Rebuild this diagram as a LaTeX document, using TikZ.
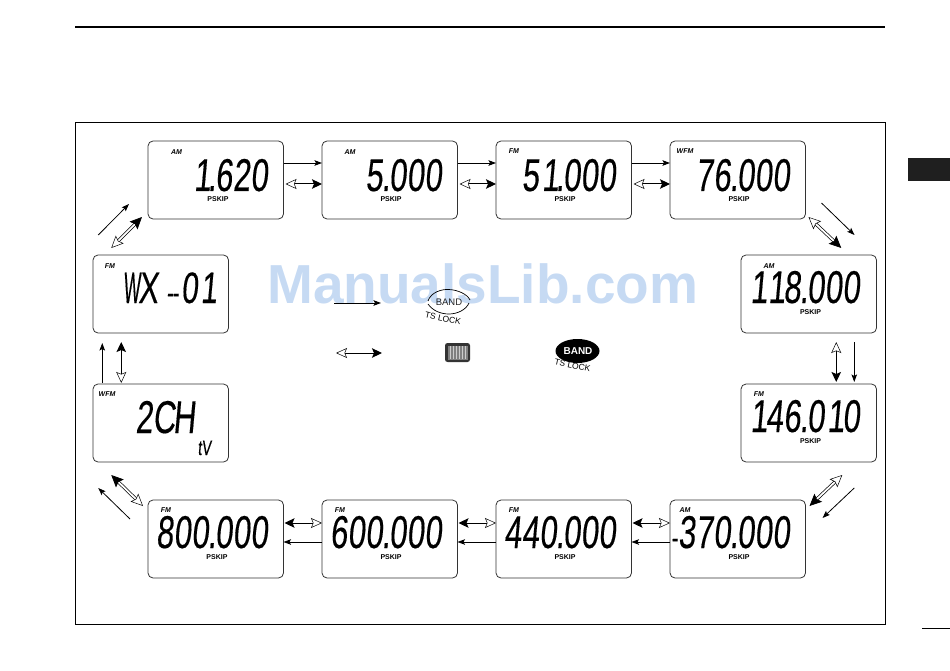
\documentclass[tikz,border=0pt]{standalone}
\usepackage{fontspec}
\setmainfont{Liberation Sans}
\usetikzlibrary{arrows.meta,shapes.geometric,calc}
\newfontfamily\lcdfam[FakeStretch=0.67,FakeSlant=0.09,FakeBold=0.3]{Liberation Sans}
\definecolor{wm}{HTML}{C6DAF3}
\newcommand{\lcdfont}{\lcdfam\fontsize{46}{46}\selectfont}
\newlength{\lcdpitch}\setlength{\lcdpitch}{17.7pt}
\newcommand{\lcdparse}[1]{%
  \ifx#1\relax\else
    \ifx#1.\makebox[6pt][c]{.}\else
    \ifx#11\makebox[\lcdpitch][r]{\makebox[10pt][r]{1}\kern-2pt}\else
    \ifx#1-\makebox[\lcdpitch][r]{\fontsize{30}{30}\selectfont-}\else
    \makebox[\lcdpitch][c]{#1}\fi\fi\fi
    \expandafter\lcdparse
  \fi}
\newcommand{\lcdtxt}[1]{\lcdfont\lcdparse#1\relax}
\tikzset{
  x=1pt,y=-1pt,
  lcdbox/.style={draw=black!80,line width=.8pt,rounded corners=5pt,minimum width=135.5pt,minimum height=78pt,inner sep=0pt,outer sep=0pt,anchor=north west},
  digits/.style={anchor=base east,inner sep=0pt,outer sep=0pt},
  tag/.style={inner sep=0pt,font=\fontsize{7}{7}\selectfont\bfseries\itshape},
  skip/.style={inner sep=0pt,font=\fontsize{7}{7}\selectfont\bfseries},
  thinarr/.style={line width=.8pt,-{Stealth[length=7.5pt,width=5.5pt,inset=1.5pt]}},
  dblarr/.style={line width=1pt,{Stealth[open,length=11pt,width=10pt,inset=2pt,fill=white,line width=.5pt]}-{Stealth[length=10pt,width=9.5pt,inset=2pt]}},
  diagarr/.style={double,double distance=1.8pt,line width=.7pt,{Stealth[open,length=12pt,width=11pt,inset=2pt,fill=white,line width=.5pt]}-{Stealth[length=12pt,width=11pt,inset=2pt]}},
}
\begin{document}
\begin{tikzpicture}
\useasboundingbox (0,0) rectangle (950,671);
% page furniture
\draw[line width=1.4pt] (75,27) -- (885,27);
\draw[line width=.9pt] (75,122.5) rectangle (885,624);
\fill[black!88] (908,158.5) rectangle (950,181.5);
\draw[line width=.9pt] (922,628) -- (950,628);
% watermark
\node[inner sep=0pt,text=wm,anchor=base west,font=\fontsize{55}{55}\selectfont\bfseries] (wmark) at (267,303) {ManualsLib.com};
% boxes
\node[lcdbox] (a1) at (148,141) {};
\node[lcdbox] (a2) at (322,141) {};
\node[lcdbox] (a3) at (496,141) {};
\node[lcdbox] (a4) at (670,141) {};
\node[lcdbox] (r1) at (741,255) {};
\node[lcdbox] (r2) at (741,384) {};
\node[lcdbox] (b4) at (670,500) {};
\node[lcdbox] (b3) at (496,500) {};
\node[lcdbox] (b2) at (322,500) {};
\node[lcdbox] (b1) at (148,500) {};
\node[lcdbox] (l2) at (93,384) {};
\node[lcdbox] (l1) at (93,255) {};
% digits
\node[digits] (a1d) at (268,191) {\lcdtxt{1.620}};
\node[digits] (a2d) at (442,191) {\lcdtxt{5.000}};
\node[digits] (a3d) at (616,191) {\lcdtxt{51.000}};
\node[digits] (a4d) at (790,191) {\lcdtxt{76.000}};
\node[digits] (r1d) at (860,303) {\lcdtxt{118.000}};
\node[digits] (r2d) at (860,432) {\lcdtxt{146.010}};
\node[digits] (b4d) at (790,548) {\lcdtxt{-370.000}};
\node[digits] (b3d) at (616,548) {\lcdtxt{440.000}};
\node[digits] (b2d) at (442,548) {\lcdtxt{600.000}};
\node[digits] (b1d) at (268,548) {\lcdtxt{800.000}};
\node[digits] (l1d) at (216,303) {\lcdfont\fontsize{44}{44}\selectfont\makebox[18pt]{\resizebox{17pt}{\height}{W}}\makebox[15pt]{X}\kern11pt\makebox[12pt]{\fontsize{30}{30}\selectfont{-}\kern-1pt{-}}\kern2pt\makebox[17.7pt]{0}\makebox[17.7pt][r]{\makebox[10pt][r]{1}\kern-1pt}};
\node[digits] (l2d) at (194,433) {\setlength{\lcdpitch}{20pt}\lcdtxt{2CH}};
\node[digits] (l2e) at (211,455) {\lcdfam\fontsize{21}{21}\selectfont tV};
% mode tags
\node[tag] (a1t) at (176.5,152) {AM};
\node[tag] (a2t) at (350,152) {AM};
\node[tag] (a3t) at (514,151) {FM};
\node[tag] (a4t) at (685,151) {WFM};
\node[tag] (r1t) at (769,266) {AM};
\node[tag] (r2t) at (759,394) {FM};
\node[tag] (b4t) at (685,510) {AM};
\node[tag] (b3t) at (514,510) {FM};
\node[tag] (b2t) at (340,510) {FM};
\node[tag] (b1t) at (166,510) {FM};
\node[tag] (l1t) at (110,266) {FM};
\node[tag] (l2t) at (107,394) {WFM};
% PSKIP
\node[skip] (a1s) at (218,199) {PSKIP};
\node[skip] (a2s) at (391,199) {PSKIP};
\node[skip] (a3s) at (565,199) {PSKIP};
\node[skip] (a4s) at (739,199) {PSKIP};
\node[skip] (r1s) at (810.5,312.5) {PSKIP};
\node[skip] (r2s) at (810.5,441) {PSKIP};
\node[skip] (b4s) at (739,557) {PSKIP};
\node[skip] (b3s) at (565,557) {PSKIP};
\node[skip] (b2s) at (391,557) {PSKIP};
\node[skip] (b1s) at (217,557) {PSKIP};
% top row connectors
\foreach \p/\q in {a1/a2,a2/a3,a3/a4}{
  \draw[thinarr] ([shift={(0,-17)}]\p.east) -- ([shift={(0,-17)}]\q.west);
  \draw[dblarr] ([shift={(2,4)}]\p.east) -- ([shift={(0,4)}]\q.west);
}
% bottom row connectors
\foreach \p/\q in {b2/b1,b3/b2,b4/b3}{
  \draw[thinarr] ([shift={(0,3)}]\p.west) -- ([shift={(0,3)}]\q.east);
  \draw[dblarr] ([shift={(0,-16)}]\p.west) -- ([shift={(1,-16)}]\q.east);
}
% top right
\draw[thinarr] ([shift={(16,-16)}]a4.south east) -- ([shift={(-22,-20)}]r1.north east);
\draw[diagarr] ([shift={(3,-2)}]a4.south east) -- ([shift={(32.5,-7)}]r1.north);
% right
\draw[thinarr] ([shift={(45.5,9)}]r1.south) -- ([shift={(45.5,-2)}]r2.north);
\draw[dblarr] ([shift={(27.5,9)}]r1.south) -- ([shift={(27.5,-2)}]r2.north);
% lower right
\draw[thinarr] ([shift={(45.5,26)}]r2.south) -- ([shift={(17,-21)}]b4.east);
\draw[diagarr] ([shift={(33.5,13)}]r2.south) -- ([shift={(4,6)}]b4.north east);
% lower left
\draw[thinarr] ([shift={(-18,-20)}]b1.west) -- ([shift={(-62.5,26)}]l2.south);
\draw[diagarr] ([shift={(-5,6)}]b1.north west) -- ([shift={(-49.5,13)}]l2.south);
% left
\draw[thinarr] ([shift={(-58.5,-1)}]l2.north) -- ([shift={(-58.5,10)}]l1.south);
\draw[dblarr] ([shift={(-39.5,-1)}]l2.north) -- ([shift={(-39.5,9)}]l1.south);
% top left
\draw[thinarr] ([shift={(-62.5,-20)}]l1.north) -- ([shift={(-19,24)}]a1.west);
\draw[diagarr] ([shift={(-49.5,-7)}]l1.north) -- ([shift={(-6,-2)}]a1.south west);
% legend arrows
\coordinate (k1a) at (334,303); \coordinate (k1b) at (381,303);
\coordinate (k2a) at (336,353); \coordinate (k2b) at (382,353);
\draw[thinarr] (k1a) -- (k1b);
\draw[dblarr] (k2a) -- (k2b);
% white BAND key
\draw[line width=.7pt] (428,301) .. controls (431,292) and (442,289) .. (449,289.5) .. controls (458,290) and (467,294) .. (470,300);
\draw[line width=.7pt] (428,304) .. controls (433,311) and (441,314) .. (449,314) .. controls (457,314) and (466,310) .. (469,303);
\node[inner sep=0pt,font=\fontsize{9.5}{9.5}\selectfont,text=black!85] (band1) at (449,302) {BAND};
\node[inner sep=0pt,rotate=-12,font=\fontsize{8.5}{8.5}\selectfont] (ts1) at (443,318.5) {TS LOCK};
% dial
\fill[black!80,rounded corners=2.5pt] (445,343) rectangle (470,362);
\fill[black!50] (447.5,345.5) rectangle (467.5,359.5);
\foreach \i in {450,453,456,459,462,465}{\draw[white!80!black,line width=.6pt] (\i,346) -- (\i,359);}
% black BAND key
\node[ellipse,fill=black,minimum width=44pt,minimum height=24pt,inner sep=0pt] (key2) at (577.5,351) {};
\node[inner sep=0pt,font=\fontsize{10}{10}\selectfont\bfseries,text=white] (band2) at (578,351) {BAND};
\node[inner sep=0pt,rotate=-12,font=\fontsize{8.5}{8.5}\selectfont] (ts2) at (572.5,365.5) {TS LOCK};
\end{tikzpicture}
\end{document}
